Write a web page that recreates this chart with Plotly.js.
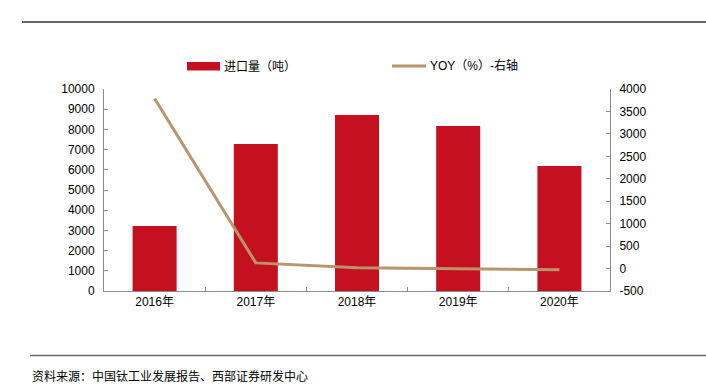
<!DOCTYPE html>
<html>
<head>
<meta charset="utf-8">
<script src="https://cdn.plot.ly/plotly-3.0.1.min.js"></script>
<style>html,body{margin:0;padding:0;background:#fff;}#chart{width:706px;height:388px;}</style>
</head>
<body>
<div id="chart"></div>
<script>
const categories = ["2016年", "2017年", "2018年", "2019年", "2020年"];
const importVolume = [3218, 7277, 8713, 8168, 6188];
const yoy = [3790, 126, 20, -6, -24];
const rightTickVals = [-500, 0, 500, 1000, 1500, 2000, 2500, 3000, 3500, 4000];
const rightTickText = ["-500", "0", "500", "1000", "1500", "2000", "2500", "3000", "3500", "4000"];
const barName = "进口量（吨）";
const lineName = "YOY（%）-右轴";
const sourceText = "资料来源：中国钛工业发展报告、西部证券研发中心";

const L = 104, R = 610, T = 89, B = 291;
const W = 706, H = 388;
const px = x => (x - L) / (R - L);
const py = y => (B - y) / (B - T);

const barColor = "#C4101F";
const lineColor = "#B9956C";
const axisColor = "#8c8c8c";
const latin = "Liberation Sans, Arial, Noto Sans CJK SC, sans-serif";
const cjk = "Noto Sans CJK SC, Liberation Sans, sans-serif";
const font = {family: latin, size: 12, color: "#000"};

const traces = [
  {type: "bar", x: categories, y: importVolume, name: barName, marker: {color: barColor}, yaxis: "y", showlegend: false},
  {type: "scatter", mode: "lines", x: categories, y: yoy, name: lineName, line: {color: lineColor, width: 3}, yaxis: "y2", showlegend: false}
];

const layout = {
  width: W, height: H,
  margin: {l: L, r: W - R, t: T, b: H - B, pad: 0},
  paper_bgcolor: "#fff", plot_bgcolor: "#fff",
  bargap: 0.565,
  font: font,
  xaxis: {
    type: "category", showline: true, linecolor: axisColor, linewidth: 1,
    ticks: "inside", ticklen: 4, tickcolor: axisColor, tickson: "boundaries",
    showgrid: false, zeroline: false,
    tickfont: {family: latin, size: 12, color: "#000"}
  },
  yaxis: {
    range: [0, 10000], dtick: 1000, tickformat: "d", showline: true, linecolor: axisColor, linewidth: 1,
    ticks: "inside", ticklen: 4, tickcolor: axisColor, showgrid: false, zeroline: false,
    tickfont: font, ticklabelstandoff: 6
  },
  yaxis2: {
    range: [-500, 4000], tickmode: "array", tickvals: rightTickVals, ticktext: rightTickText,
    overlaying: "y", side: "right",
    showline: true, linecolor: axisColor, linewidth: 1,
    ticks: "inside", ticklen: 4, tickcolor: axisColor, showgrid: false, zeroline: false,
    tickfont: font, ticklabelstandoff: 6
  },
  shapes: [
    {type: "line", xref: "paper", yref: "paper", x0: px(22), x1: px(706), y0: py(22), y1: py(22), line: {color: "#666", width: 2}},
    {type: "line", xref: "paper", yref: "paper", x0: px(30), x1: px(706), y0: py(355.5), y1: py(355.5), line: {color: "#666", width: 1.5}},
    {type: "rect", xref: "paper", yref: "paper", x0: px(187), x1: px(220), y0: py(70.5), y1: py(62), fillcolor: barColor, line: {width: 0}},
    {type: "line", xref: "paper", yref: "paper", x0: px(392), x1: px(426), y0: py(66), y1: py(66), line: {color: lineColor, width: 3}}
  ],
  annotations: [
    {xref: "paper", yref: "paper", x: px(222), y: py(66), xanchor: "left", yanchor: "middle", showarrow: false, text: barName, font: {family: cjk, size: 12, color: "#000"}},
    {xref: "paper", yref: "paper", x: px(428), y: py(66), xanchor: "left", yanchor: "middle", showarrow: false, text: lineName, font: {family: latin, size: 12, color: "#000"}},
    {xref: "paper", yref: "paper", x: px(30), y: py(375), xanchor: "left", yanchor: "middle", showarrow: false, text: sourceText, font: {family: cjk, size: 12, color: "#000"}}
  ]
};

Plotly.newPlot("chart", traces, layout, {displayModeBar: false, staticPlot: true});
</script>
</body>
</html>
